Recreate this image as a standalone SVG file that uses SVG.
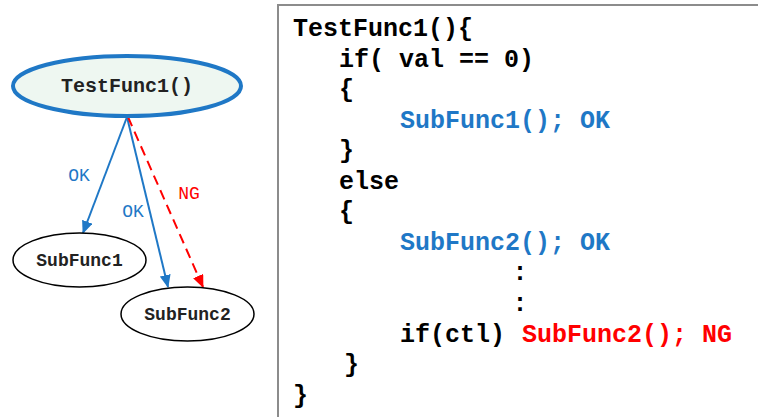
<svg xmlns="http://www.w3.org/2000/svg" width="758" height="417" viewBox="0 0 758 417">
<defs>
<style>
.node{fill:#fff;stroke:#000;stroke-width:1.5}
.nlabel{font-family:"Liberation Mono","Courier New",monospace;font-size:18px;font-weight:bold;text-anchor:middle;fill:#222}
.elabel{font-family:"Liberation Mono","Courier New",monospace;font-size:18px;text-anchor:middle}
.ok{stroke:#1f78c6;stroke-width:2;fill:none}
.ng{stroke:#ff0000;stroke-width:2;fill:none;stroke-dasharray:10 6}
.code{font-family:"Liberation Mono","Courier New",monospace;font-size:25px;font-weight:bold;fill:#000}
.blue{fill:#1f78c6}
.red{fill:#ff0000}
</style>
<marker id="ab" markerWidth="13" markerHeight="11" refX="12" refY="5.5" orient="auto" markerUnits="userSpaceOnUse" viewBox="0 0 13 11"><path d="M0,0 L13,5.5 L0,11 z" fill="#1f78c6"/></marker>
<marker id="ar" markerWidth="13" markerHeight="11" refX="12" refY="5.5" orient="auto" markerUnits="userSpaceOnUse" viewBox="0 0 13 11"><path d="M0,0 L13,5.5 L0,11 z" fill="#ff0000"/></marker>
</defs>
<rect width="758" height="417" fill="#fff"/>
<g id="connectors">
<line class="ok" x1="127" y1="117" x2="83" y2="233" marker-end="url(#ab)"/>
<line class="ok" x1="127" y1="117" x2="168" y2="287" marker-end="url(#ab)"/>
<line class="ng" x1="128" y1="117" x2="203" y2="287" marker-end="url(#ar)"/>
<text class="elabel blue" x="79" y="181">OK</text>
<text class="elabel blue" x="133" y="217">OK</text>
<text class="elabel red" x="189" y="199">NG</text>
</g>
<g id="TestFunc1">
<ellipse cx="127" cy="86" rx="114" ry="30" fill="#eef7f1" stroke="#1f78c6" stroke-width="4"/>
<text class="nlabel" x="127" y="92" style="font-size:20px">TestFunc1()</text>
</g>
<g id="SubFunc1">
<ellipse class="node" cx="79.5" cy="260" rx="66.5" ry="27"/>
<text class="nlabel" x="79.5" y="266">SubFunc1</text>
</g>
<g id="SubFunc2">
<ellipse class="node" cx="187.5" cy="314" rx="66.5" ry="27"/>
<text class="nlabel" x="187.5" y="320">SubFunc2</text>
</g>
<g id="code">
<rect x="278" y="5" width="490" height="420" fill="#fff" stroke="#8c8c8c" stroke-width="2"/>
<text class="code" x="293" y="36">TestFunc1(){</text>
<text class="code" x="339" y="66.5">if( val == 0)</text>
<text class="code" x="339" y="97">{</text>
<text class="code blue" x="400" y="127.5">SubFunc1(); OK</text>
<text class="code" x="339" y="158">}</text>
<text class="code" x="339" y="188.5">else</text>
<text class="code" x="339" y="219">{</text>
<text class="code blue" x="400" y="249.5">SubFunc2(); OK</text>
<text class="code" x="520" y="280" text-anchor="middle">:</text>
<text class="code" x="520" y="310.5" text-anchor="middle">:</text>
<text class="code" x="400" y="342">if(ctl)</text>
<text class="code red" x="522" y="342">SubFunc2(); NG</text>
<text class="code" x="344" y="372">}</text>
<text class="code" x="293" y="403">}</text>
</g>
</svg>
